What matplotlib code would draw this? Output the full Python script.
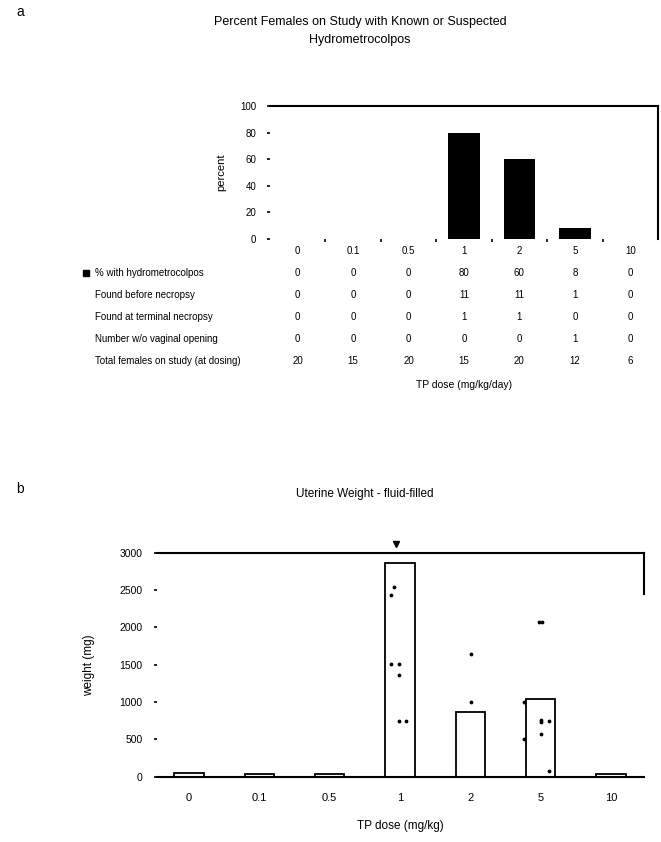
import matplotlib
matplotlib.use('Agg')
import matplotlib.pyplot as plt
import matplotlib.transforms as mtransforms

plt.rcParams['font.family'] = ['Liberation Sans', 'DejaVu Sans']

# ---- data ----
doses = ['0', '0.1', '0.5', '1', '2', '5', '10']

pct_hydro = [0, 0, 0, 80, 60, 8, 0]
row_labels = ['% with hydrometrocolpos',
              'Found before necropsy',
              'Found at terminal necropsy',
              'Number w/o vaginal opening',
              'Total females on study (at dosing)']
found_before = [0, 0, 0, 11, 11, 1, 0]
found_at = [0, 0, 0, 1, 1, 0, 0]
no_opening = [0, 0, 0, 0, 0, 1, 0]
total_females = [20, 15, 20, 15, 20, 12, 6]

uterine_mean = [45, 35, 35, 2860, 860, 1040, 35]
# individual animals (dose index, offset, weight mg)
pts_dose = [3, 3, 3, 3, 3, 3, 3, 4, 4, 5, 5, 5, 5, 5, 5, 5, 5, 5]
pts_off = [-0.09, -0.13, -0.13, -0.02, -0.02, -0.02, 0.09, 0.01, 0.01,
           -0.02, 0.02, -0.23, 0.0, 0.0, 0.12, 0.0, -0.23, 0.12]
pts_wt = [2540, 2430, 1505, 1505, 1360, 750, 740, 1643, 1000,
          2076, 2076, 1000, 760, 737, 745, 576, 501, 76]

W, H = 661, 842
fig = plt.figure(figsize=(W / 100, H / 100), dpi=100)


def rect(l, t, r, b):
    return [l / W, 1 - b / H, (r - l) / W, (b - t) / H]


# ---------------- panel a ----------------
ax = fig.add_axes(rect(270, 106, 658, 239))
x = list(range(len(doses)))
ax.bar(x, pct_hydro, width=0.57, color='black')
ax.set_xlim(-0.5, 6.5)
ax.set_ylim(0, 100)
ax.set_yticks([0, 20, 40, 60, 80, 100])
ax.set_xticks(x)
ax.set_xticklabels(doses, fontsize=7)
ax.set_xticks([i + 0.5 for i in range(6)], minor=True)
ax.tick_params(axis='x', which='major', length=0, pad=5)
ax.tick_params(axis='x', which='minor', length=2, width=1.2)
ax.tick_params(axis='y', length=2, width=1.2, pad=8, labelsize=7)
ax.spines['left'].set_visible(False)
ax.spines['bottom'].set_visible(False)
ax.spines['top'].set_linewidth(1.5)
ax.spines['right'].set_linewidth(1.5)
ax.set_ylabel('percent', fontsize=8, labelpad=10)

fig.text(0.545, 1 - 22 / H, 'Percent Females on Study with Known or Suspected',
         ha='center', va='center', fontsize=9)
fig.text(0.545, 1 - 40 / H, 'Hydrometrocolpos', ha='center', va='center', fontsize=9)
fig.text(20 / W, 1 - 12 / H, 'a', ha='center', va='center', fontsize=10)

# table under panel a
tr_lab = mtransforms.blended_transform_factory(fig.transFigure, ax.transAxes)
tr_val = ax.get_xaxis_transform()
rows = [pct_hydro, found_before, found_at, no_opening, total_females]
for r, (lab, vals) in enumerate(zip(row_labels, rows)):
    ypix = 273 + 22 * r
    ya = (239 - ypix) / 133
    ax.text(95 / W, ya, lab, transform=tr_lab, ha='left', va='center', fontsize=7)
    for i, v in enumerate(vals):
        ax.text(i, ya, str(v), transform=tr_val, ha='center', va='center', fontsize=7)
ax.plot([86 / W], [(239 - 273) / 133], 's', color='black', markersize=5,
        transform=tr_lab, clip_on=False)
ax.text(0.5, (239 - 385) / 133, 'TP dose (mg/kg/day)', transform=ax.transAxes,
        ha='center', va='center', fontsize=7.5)

# ---------------- panel b ----------------
bx = fig.add_axes(rect(156.7, 552.7, 644, 776.7))
bx.bar(x, uterine_mean, width=0.42, color='white', edgecolor='black', linewidth=1.3)
bx.scatter([d + o for d, o in zip(pts_dose, pts_off)], pts_wt, s=3, color='black', zorder=3)
bx.plot([2.95], [3110], 'v', color='black', markersize=4, clip_on=False)
bx.set_xlim(-0.46, 6.47)
bx.set_ylim(0, 3000)
bx.set_yticks([0, 500, 1000, 1500, 2000, 2500, 3000])
bx.set_xticks(x)
bx.set_xticklabels(doses, fontsize=8)
bx.tick_params(axis='x', length=0, pad=12)
bx.tick_params(axis='y', length=2, width=1.2, pad=8, labelsize=7.5)
bx.spines['left'].set_visible(False)
bx.spines['right'].set_bounds(2450, 3000)
for s in ['top', 'right', 'bottom']:
    bx.spines[s].set_linewidth(1.5)
bx.set_ylabel('weight (mg)', fontsize=8.5, labelpad=18)
bx.set_xlabel('TP dose (mg/kg)', fontsize=8.5, labelpad=12)

fig.text(365 / W, 1 - 494 / H, 'Uterine Weight - fluid-filled', ha='center', va='center', fontsize=8.5)
fig.text(20 / W, 1 - 489 / H, 'b', ha='center', va='center', fontsize=10)

fig.savefig('out.png', dpi=100)
